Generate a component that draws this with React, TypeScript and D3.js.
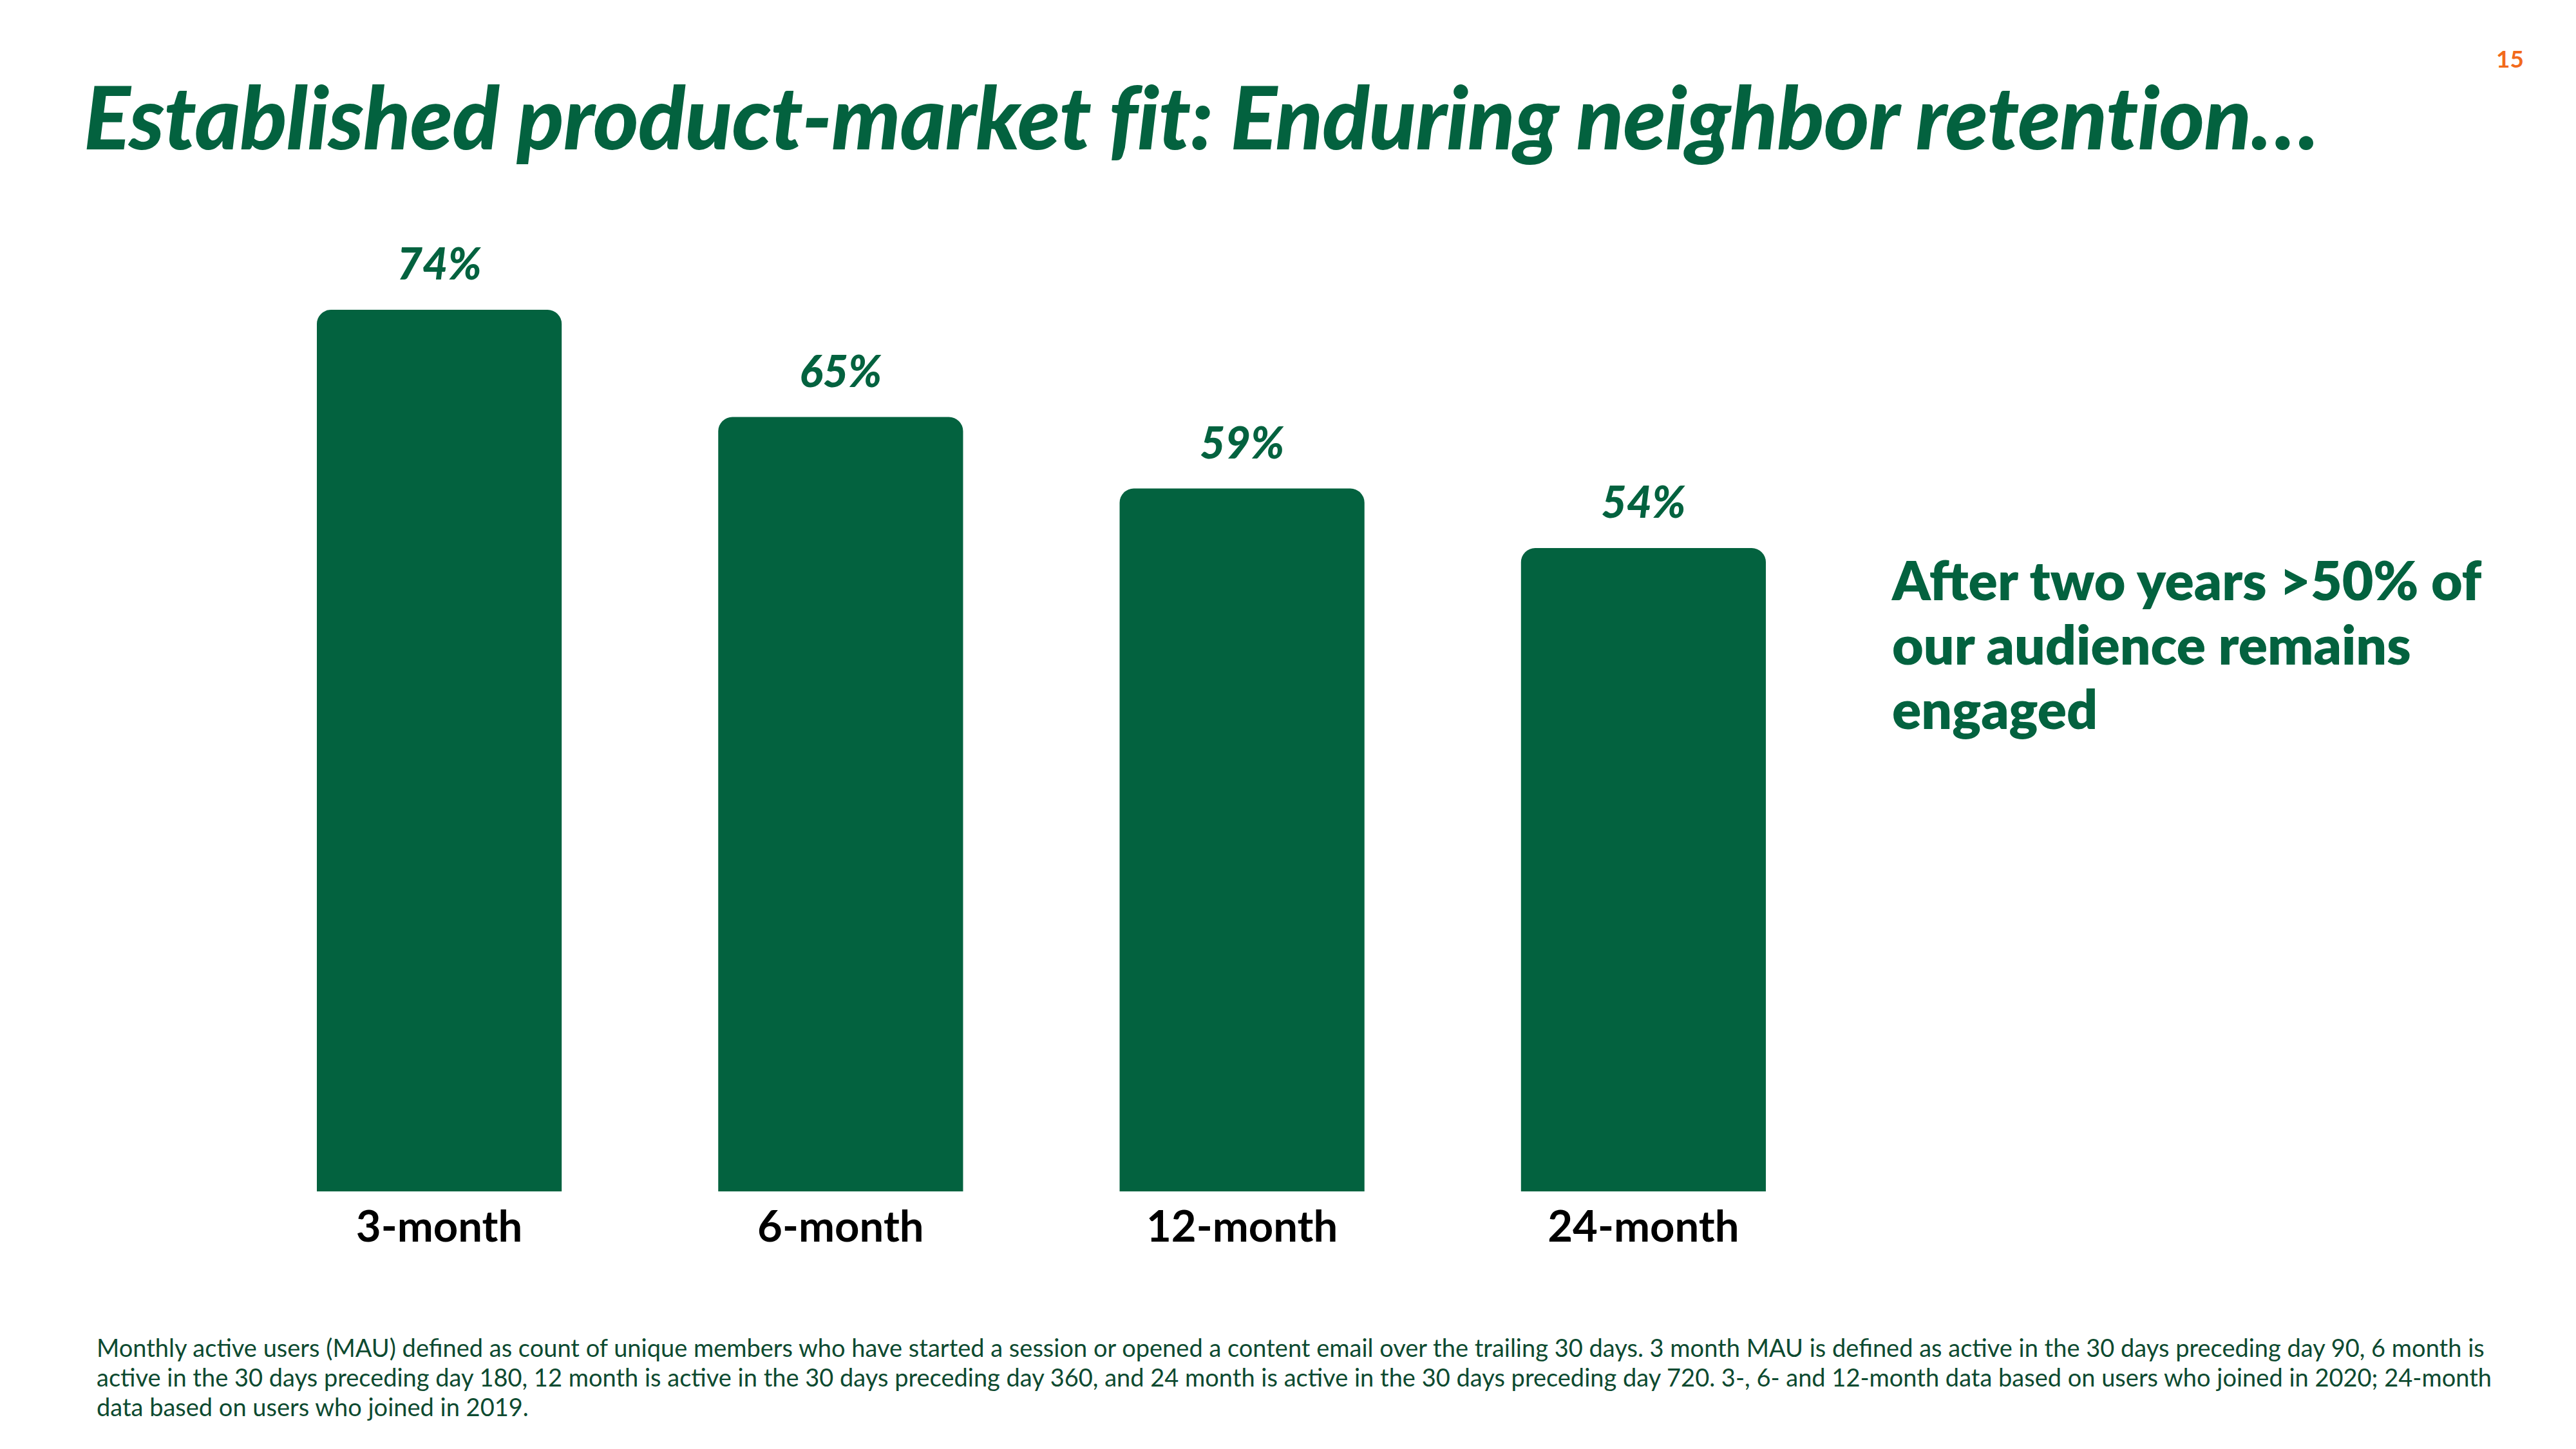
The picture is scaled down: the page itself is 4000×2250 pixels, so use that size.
import React from "react";
import * as d3 from "d3";

const categories = ["3-month", "6-month", "12-month", "24-month"];
const values = [74, 65, 59, 54];
const valueLabels = ["74%", "65%", "59%", "54%"];
const titleText = "Established product-market fit: Enduring neighbor retention…";
const pageNumber = "15";
const annotationLines = ["After two years >50% of", "our audience remains", "engaged"];
const footnoteLines = [
  "Monthly active users (MAU) defined as count of unique members who have started a session or opened a content email over the trailing 30 days. 3 month MAU is defined as active in the 30 days preceding day 90, 6 month is",
  "active in the 30 days preceding day 180, 12 month is active in the 30 days preceding day 360, and 24 month is active in the 30 days preceding day 720. 3-, 6- and 12-month data based on users who joined in 2020; 24-month",
  "data based on users who joined in 2019.",
];

const GREEN = "#03623F";
const DARK = "#0D4A30";
const ORANGE = "#F26A1B";
const FONT = "Lato, 'Noto Sans', sans-serif";

function topRoundedBar(x: number, y: number, w: number, h: number, r: number) {
  const p = d3.path();
  p.moveTo(x, y + h);
  p.lineTo(x, y + r);
  p.arcTo(x, y, x + r, y, r);
  p.lineTo(x + w - r, y);
  p.arcTo(x + w, y, x + w, y + r, r);
  p.lineTo(x + w, y + h);
  p.closePath();
  return p.toString();
}

export default function App() {
  const W = 4000;
  const H = 2250;
  const x = d3.scaleBand<string>().domain(categories).range([492, 2742]).paddingInner(0.39).paddingOuter(0);
  const y = d3.scaleLinear().domain([0, 100]).range([1850, 0]);
  const bw = x.bandwidth();

  return (
    <svg
      width={W}
      height={H}
      viewBox={`0 0 ${W} ${H}`}
      style={{ position: "absolute", left: 0, top: 0, display: "block", background: "#fff" }}
    >
      <rect x={0} y={0} width={W} height={H} fill="#fff" />
      <text
        x={130}
        y={232}
        fontFamily={FONT}
        fontWeight={900}
        fontStyle="italic"
        fontSize={135}
        fill={GREEN}
        letterSpacing={-0.9}
      >
        {titleText}
      </text>
      <text x={3919} y={105} textAnchor="end" fontFamily={FONT} fontWeight={700} fontSize={37} fill={ORANGE}>
        {pageNumber}
      </text>

      {categories.map((c, i) => {
        const bx = x(c) as number;
        const by = y(values[i]);
        return (
          <g key={c}>
            <path d={topRoundedBar(bx, by, bw, y(0) - by, 22)} fill={GREEN} />
            <text
              x={bx + bw / 2}
              y={by - 47}
              textAnchor="middle"
              fontFamily={FONT}
              fontWeight={900}
              fontStyle="italic"
              fontSize={68}
              fill={GREEN}
            >
              {valueLabels[i]}
            </text>
            <text
              x={bx + bw / 2}
              y={1928}
              textAnchor="middle"
              fontFamily={FONT}
              fontWeight={700}
              fontSize={67}
              fill="#000"
            >
              {c}
            </text>
          </g>
        );
      })}

      {annotationLines.map((l, i) => (
        <text key={i} x={2938} y={932 + i * 100} fontFamily={FONT} fontWeight={800} fontSize={84} fill={GREEN}>
          {l}
        </text>
      ))}

      {footnoteLines.map((l, i) => (
        <text key={i} x={150} y={2107 + i * 46} fontFamily={FONT} fontWeight={400} fontSize={38} fill={DARK}>
          {l}
        </text>
      ))}
    </svg>
  );
}
